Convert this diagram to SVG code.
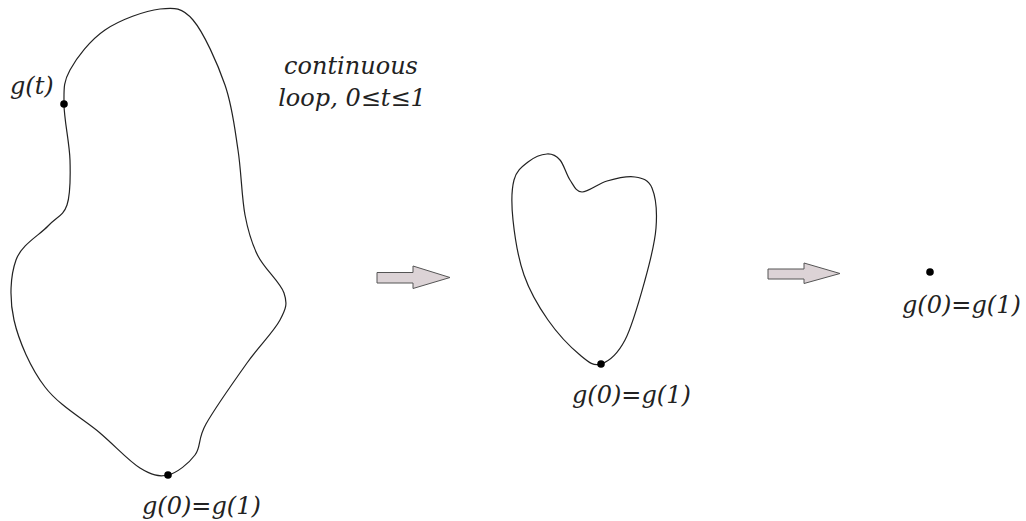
<svg xmlns="http://www.w3.org/2000/svg" width="1026" height="521" viewBox="0 0 1026 521">
<style>
.curve{fill:none;stroke:#222;stroke-width:1.2}
.dot{fill:#000}
.lbl{font-family:"DejaVu Serif","Liberation Serif",serif;font-style:italic;font-size:24px;fill:#222}
.arrow{fill:#dcd3d6;stroke:#555;stroke-width:1}
</style>
<rect width="1026" height="521" fill="#fff"/>
<g id="big-loop">
<path class="curve" d="M168,475 C177.17,472.83 188.67,463.5 195,455 C201.33,446.5 197.33,439.33 206,424 C214.67,408.67 234.67,380.33 247,363 C259.33,345.67 273.83,331.67 280,320 C286.17,308.33 287.67,303.67 284,293 C280.33,282.33 264.5,269 258,256 C251.5,243 248.33,232.67 245,215 C241.67,197.33 241.33,171.67 238,150 C234.67,128.33 232.5,106.67 225,85 C217.5,63.33 203.83,32.67 193,20 C182.17,7.33 174.67,7.33 160,9 C145.33,10.67 120,19.83 105,30 C90,40.17 76.83,57.67 70,70 C63.17,82.33 64,89 64,104 C64,119 69.5,143.17 70,160 C70.5,176.83 70.67,194 67,205 C63.33,216 56.5,216.83 48,226 C39.5,235.17 21.67,244.33 16,260 C10.33,275.67 9.17,298.830 14,320 C18.83,341.17 30.67,368.17 45,387 C59.33,405.83 84.17,419.5 100,433 C115.83,446.5 128.67,461 140,468 C151.33,475 158.83,477.17 168,475 Z"/>
<circle class="dot" cx="64" cy="104" r="3.8"/>
<circle class="dot" cx="168" cy="475" r="3.8"/>
<text class="lbl" x="10" y="94">g(t)</text>
<text class="lbl" x="351" y="74" text-anchor="middle">continuous</text>
<text class="lbl" x="352" y="106" text-anchor="middle">loop, 0≤t≤1</text>
<text class="lbl" x="142" y="514">g(0)=g(1)</text>
</g>
<g id="small-loop">
<path class="curve" d="M601,364 C608.5,361.5 617.67,354 625,340 C632.33,326 639.83,298.67 645,280 C650.17,261.33 654.83,243.33 656,228 C657.17,212.67 655.5,196.5 652,188 C648.5,179.5 642.5,178.17 635,177 C627.5,175.83 615.83,178.5 607,181 C598.17,183.5 588.17,192.17 582,192 C575.83,191.83 573.67,185.33 570,180 C566.33,174.67 563.830,164.33 560,160 C556.17,155.67 552.33,153.67 547,154 C541.67,154.33 533.5,157.67 528,162 C522.5,166.33 516.5,170.33 514,180 C511.5,189.67 511.33,204.17 513,220 C514.67,235.83 518.17,258.33 524,275 C529.83,291.67 538.67,306.67 548,320 C557.33,333.33 571.17,347.67 580,355 C588.83,362.33 593.5,366.5 601,364 Z"/>
<circle class="dot" cx="601" cy="364" r="3.8"/>
<text class="lbl" x="572" y="403">g(0)=g(1)</text>
</g>
<g id="point">
<circle class="dot" cx="930" cy="272" r="3.8"/>
<text class="lbl" x="902" y="313">g(0)=g(1)</text>
</g>
<g id="connectors">
<polygon class="arrow" points="377,272.5 413,272.5 413,266 450,277.5 413,288.5 413,283 377,283"/>
<polygon class="arrow" points="768,269 804,269 804,263 840,273.5 804,283.5 804,279 768,279"/>
</g>
</svg>
